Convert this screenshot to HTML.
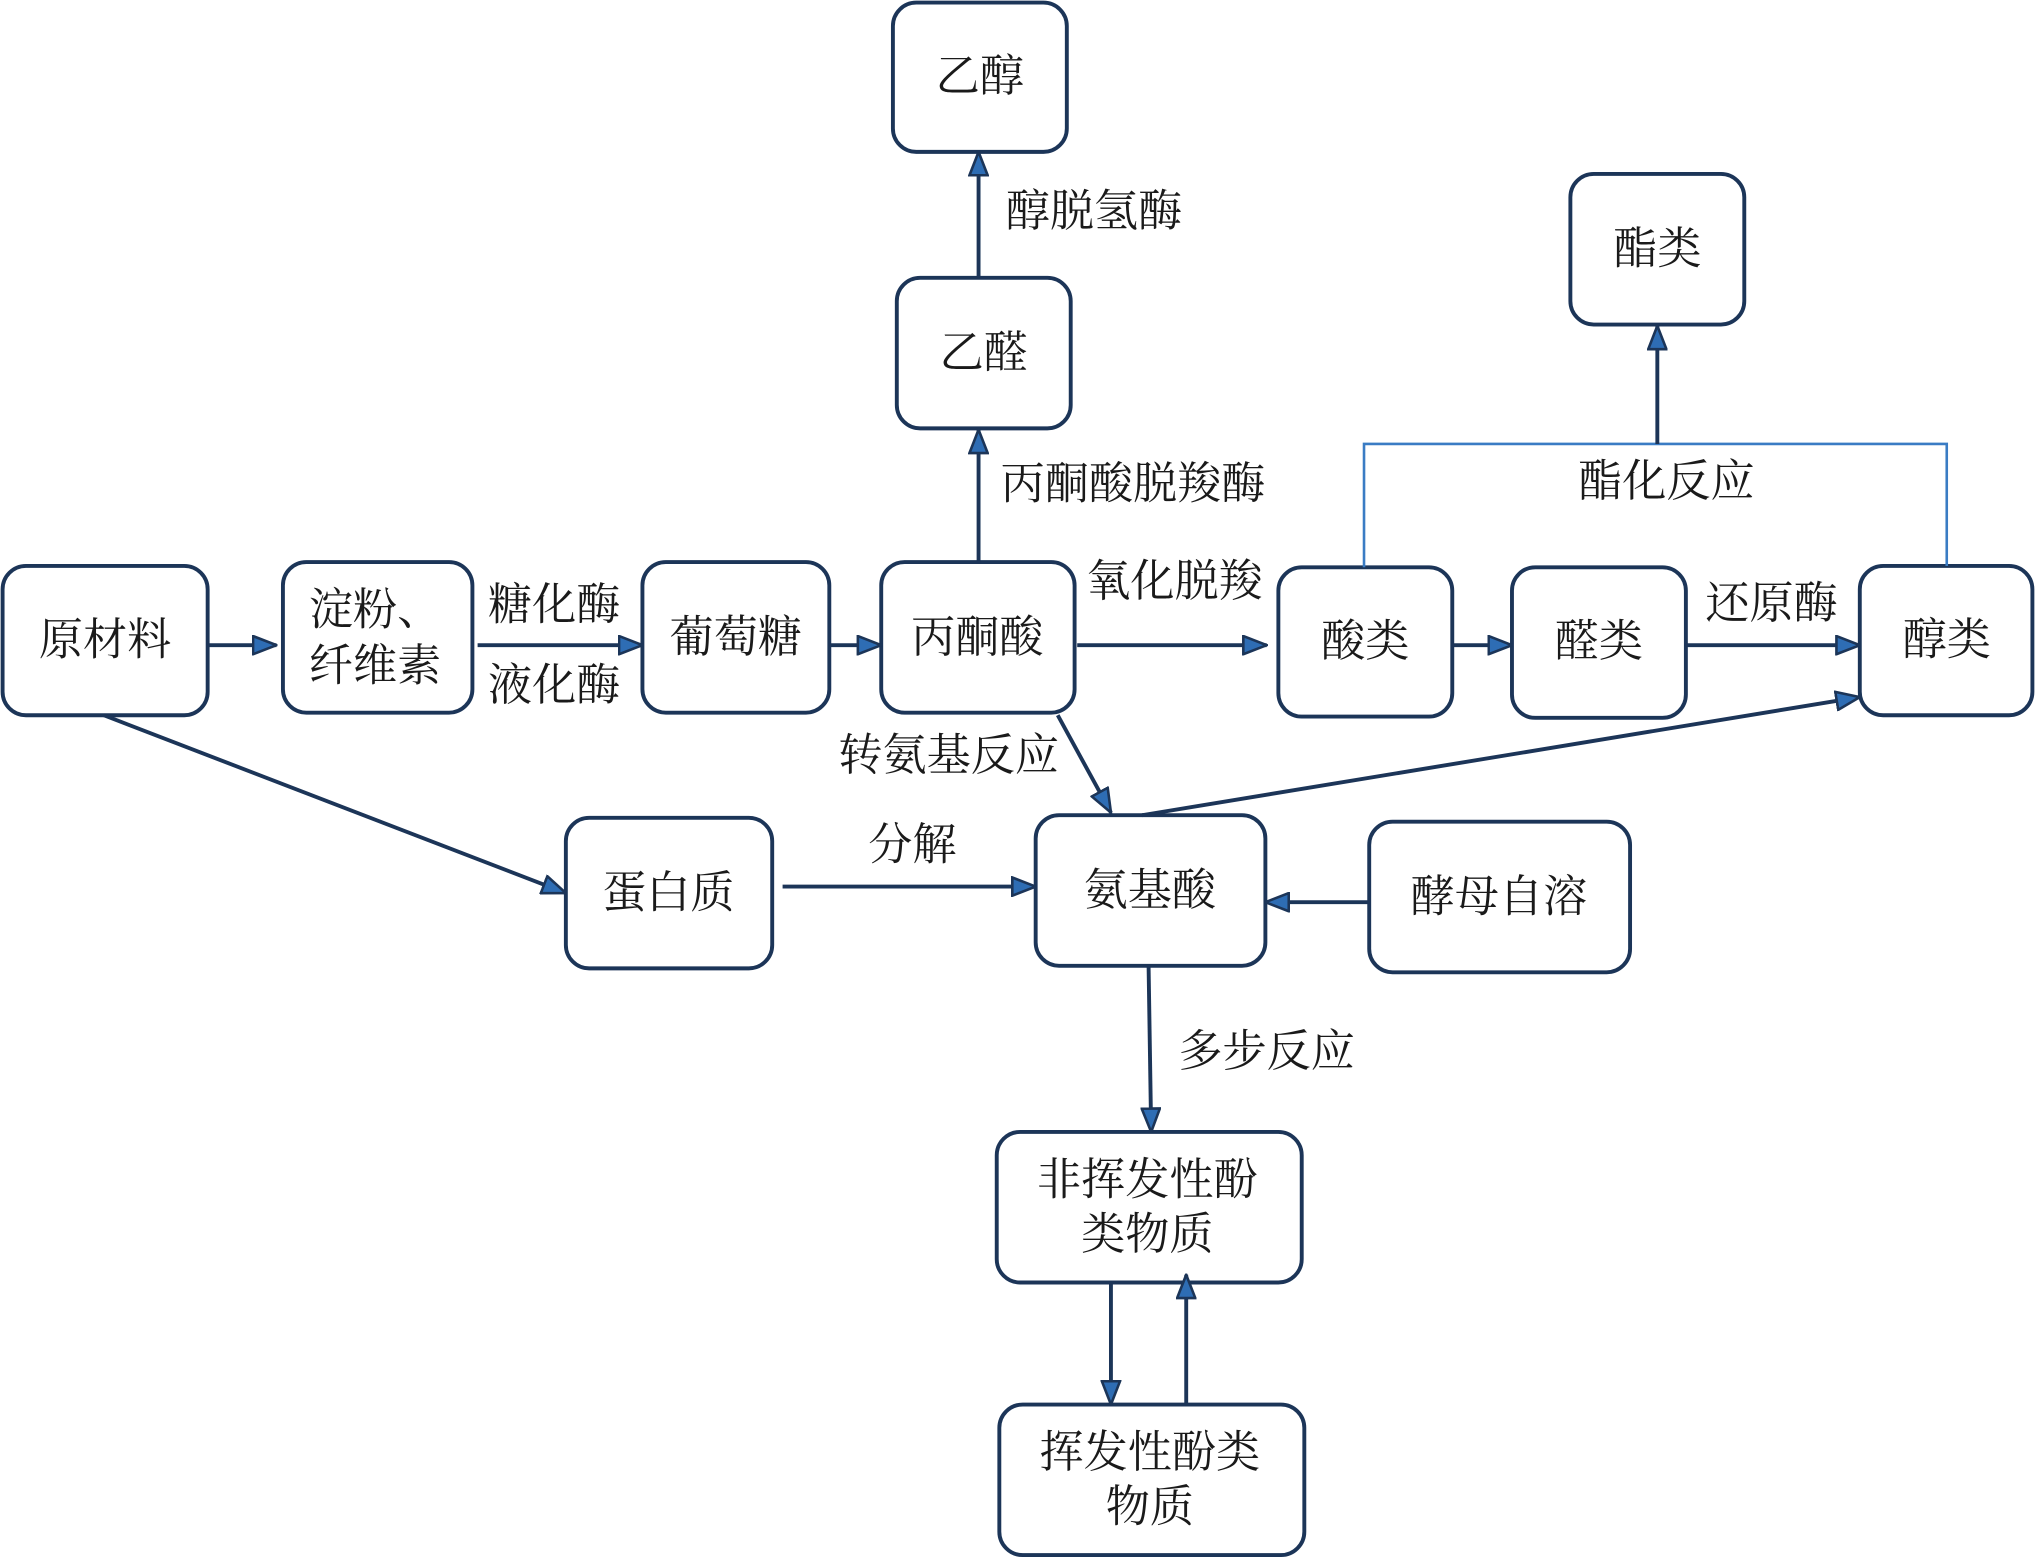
<!DOCTYPE html>
<html><head><meta charset="utf-8"><style>
html,body{margin:0;padding:0;background:#fff;}
svg{display:block;}
text{font-family:"Liberation Serif","Noto Serif CJK SC",serif;font-size:34px;fill:#1a1a1a;text-anchor:middle;dominant-baseline:central;}
.b{fill:#fff;stroke:#1c3558;stroke-width:3;}
.l{stroke:#1c3558;stroke-width:3;fill:none;}
.e{stroke:#3a7cc4;stroke-width:2;fill:none;}
</style></head><body>
<svg width="2035" height="1559" viewBox="0 0 1568 1201" preserveAspectRatio="none" xmlns="http://www.w3.org/2000/svg">
<defs>
<marker id="a" viewBox="0 0 20 16" refX="19" refY="8" markerWidth="20" markerHeight="16" markerUnits="userSpaceOnUse" orient="auto">
<path d="M1,1 L19,8 L1,15 Z" fill="#2e6db4" stroke="#1c3558" stroke-width="2"/>
</marker>
</defs>
<rect width="1568" height="1201" fill="#fff"/>
<!-- boxes -->
<rect class="b" x="688" y="2" width="134" height="115" rx="18"/><text x="755" y="59">乙醇</text>
<rect class="b" x="691" y="214" width="134" height="116" rx="18"/><text x="758" y="272">乙醛</text>
<rect class="b" x="1210" y="134" width="134" height="116" rx="18"/><text x="1277" y="192">酯类</text>
<rect class="b" x="2" y="436" width="158" height="115" rx="18"/><text x="81" y="493">原材料</text>
<rect class="b" x="218" y="433" width="146" height="116" rx="18"/><text x="289" y="470">淀粉、</text><text x="289" y="513">纤维素</text>
<rect class="b" x="495" y="433" width="144" height="116" rx="18"/><text x="567" y="491">葡萄糖</text>
<rect class="b" x="679" y="433" width="149" height="116" rx="18"/><text x="753" y="491">丙酮酸</text>
<rect class="b" x="985" y="437" width="134" height="115" rx="18"/><text x="1052" y="494">酸类</text>
<rect class="b" x="1165" y="437" width="134" height="116" rx="18"/><text x="1232" y="494">醛类</text>
<rect class="b" x="1433" y="436" width="133" height="115" rx="18"/><text x="1500" y="493">醇类</text>
<rect class="b" x="436" y="630" width="159" height="116" rx="18"/><text x="515" y="688">蛋白质</text>
<rect class="b" x="798" y="628" width="177" height="116" rx="18"/><text x="886" y="686">氨基酸</text>
<rect class="b" x="1055" y="633" width="201" height="116" rx="18"/><text x="1155" y="691">酵母自溶</text>
<rect class="b" x="768" y="872" width="235" height="116" rx="18"/><text x="884" y="909">非挥发性酚</text><text x="884" y="951">类物质</text>
<rect class="b" x="770" y="1082" width="235" height="116" rx="18"/><text x="886" y="1119">挥发性酚类</text><text x="886" y="1161">物质</text>
<!-- connectors -->
<line class="l" x1="160" y1="497" x2="213" y2="497" marker-end="url(#a)"/>
<line class="l" x1="368" y1="497" x2="495" y2="497" marker-end="url(#a)"/>
<line class="l" x1="639" y1="497" x2="679" y2="497" marker-end="url(#a)"/>
<line class="l" x1="830" y1="497" x2="976" y2="497" marker-end="url(#a)"/>
<line class="l" x1="1119" y1="497" x2="1165" y2="497" marker-end="url(#a)"/>
<line class="l" x1="1299" y1="497" x2="1433" y2="497" marker-end="url(#a)"/>
<line class="l" x1="754" y1="433" x2="754" y2="331" marker-end="url(#a)"/>
<line class="l" x1="754" y1="214" x2="754" y2="117" marker-end="url(#a)"/>
<polyline class="e" points="1051,437 1051,342 1500,342 1500,436"/>
<line class="l" x1="1277" y1="342" x2="1277" y2="251" marker-end="url(#a)"/>
<line class="l" x1="80" y1="551" x2="436" y2="688" marker-end="url(#a)"/>
<line class="l" x1="603" y1="683" x2="798" y2="683" marker-end="url(#a)"/>
<line class="l" x1="815" y1="551" x2="856" y2="626" marker-end="url(#a)"/>
<line class="l" x1="880" y1="628" x2="1433" y2="537" marker-end="url(#a)"/>
<line class="l" x1="1055" y1="695" x2="975" y2="695" marker-end="url(#a)"/>
<line class="l" x1="885" y1="744" x2="887" y2="872" marker-end="url(#a)"/>
<line class="l" x1="856" y1="988" x2="856" y2="1082" marker-end="url(#a)"/>
<line class="l" x1="914" y1="1082" x2="914" y2="982" marker-end="url(#a)"/>
<!-- labels -->
<text x="427" y="466">糖化酶</text>
<text x="427" y="528">液化酶</text>
<text x="905" y="448">氧化脱羧</text>
<text x="1365" y="465">还原酶</text>
<text x="873" y="373">丙酮酸脱羧酶</text>
<text x="843" y="163">醇脱氢酶</text>
<text x="1284" y="371">酯化反应</text>
<text x="703" y="651">分解</text>
<text x="731" y="582">转氨基反应</text>
<text x="976" y="810">多步反应</text>
</svg>
</body></html>
